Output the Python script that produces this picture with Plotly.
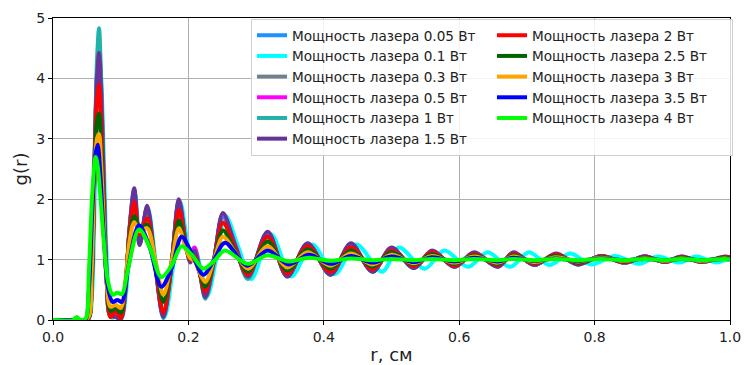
import plotly.graph_objects as go

# ---------------- data ----------------
# r grid for the low/medium power curves (extrema and shoulders)
R_MAIN = [0.0, 0.03, 0.035, 0.04, 0.052, 0.057, 0.061, 0.065, 0.068, 0.071,
          0.075, 0.079, 0.085, 0.093, 0.1, 0.107, 0.113, 0.12, 0.128, 0.139,
          0.151, 0.163, 0.175, 0.186, 0.197, 0.203, 0.209, 0.216, 0.225, 0.238,
          0.251, 0.27, 0.288, 0.317, 0.346, 0.376, 0.41, 0.44, 0.472, 0.5,
          0.533, 0.56, 0.593, 0.622, 0.657, 0.68, 0.711, 0.743, 0.775, 0.81,
          0.844, 0.874, 0.904, 0.928, 0.958, 0.992, 1.0]

# r grid for the 0.1 W curve (slightly longer period)
R_CYAN = [0.0, 0.03, 0.035, 0.04, 0.053, 0.058, 0.062, 0.066, 0.069, 0.072,
          0.076, 0.08, 0.086, 0.094, 0.101, 0.108, 0.114, 0.121, 0.129, 0.14,
          0.152, 0.165, 0.177, 0.188, 0.199, 0.205, 0.211, 0.219, 0.228, 0.241,
          0.255, 0.274, 0.293, 0.322, 0.352, 0.383, 0.416, 0.448, 0.486, 0.511,
          0.549, 0.578, 0.613, 0.642, 0.675, 0.703, 0.733, 0.764, 0.795, 0.83,
          0.865, 0.893, 0.925, 0.95, 0.98, 0.995, 1.0]

# r grid for the high power curves (3.5 W, 4 W)
R_HIGH = [0.0, 0.03, 0.035, 0.04, 0.048, 0.053, 0.058, 0.063, 0.066, 0.07,
          0.075, 0.081, 0.088, 0.095, 0.102, 0.11, 0.127, 0.143, 0.16, 0.175,
          0.19, 0.205, 0.222, 0.238, 0.254, 0.287, 0.317, 0.348, 0.378, 0.41,
          0.44, 0.472, 0.5, 0.533, 0.56, 0.593, 0.622, 0.657, 0.68, 0.711,
          0.743, 0.775, 0.81, 0.844, 0.874, 0.904, 0.928, 0.958, 0.992, 1.0]

G_005 = [0, 0, 0.02, 0, 0.02, 0.55, 2.4, 4.1, 4.5, 3.9,
         2.2, 0.8, 0.06, 0.05, 0.02, 0.5, 1.5, 2.12, 1.28, 1.84,
         0.92, 0.06, 0.9, 1.97, 1.2, 0.97, 1.12, 0.84, 0.4, 1.0,
         1.74, 1.2, 0.7, 1.44, 0.73, 1.26, 0.76, 1.25, 0.8, 1.19,
         0.86, 1.14, 0.88, 1.11, 0.89, 1.11, 0.91, 1.09, 0.92, 1.06,
         0.95, 1.05, 0.96, 1.04, 0.96, 1.04, 1.03]
G_01 = [0, 0, 0.02, 0, 0.02, 0.5, 2.2, 3.9, 4.3, 3.8,
        2.3, 0.9, 0.1, 0.05, 0.02, 0.45, 1.4, 2.1, 1.3, 1.85,
        0.95, 0.05, 0.85, 1.95, 1.25, 1.0, 1.12, 0.8, 0.4, 1.0,
        1.72, 1.2, 0.68, 1.42, 0.72, 1.25, 0.76, 1.25, 0.8, 1.2,
        0.85, 1.15, 0.88, 1.12, 0.88, 1.12, 0.91, 1.1, 0.92, 1.06,
        0.93, 1.05, 0.95, 1.05, 0.95, 1.0, 1.01]
G_03 = [0, 0, 0.02, 0, 0.02, 0.55, 2.4, 4.0, 4.4, 3.8,
        2.2, 0.8, 0.07, 0.06, 0.03, 0.5, 1.48, 2.1, 1.3, 1.82,
        0.93, 0.07, 0.9, 1.95, 1.2, 1.0, 1.1, 0.84, 0.42, 1.0,
        1.72, 1.18, 0.7, 1.42, 0.74, 1.25, 0.77, 1.24, 0.81, 1.18,
        0.87, 1.13, 0.89, 1.1, 0.89, 1.1, 0.92, 1.08, 0.93, 1.06,
        0.95, 1.05, 0.96, 1.04, 0.97, 1.04, 1.03]
G_05 = [0, 0, 0.02, 0, 0.02, 0.55, 2.4, 4.05, 4.45, 3.85,
        2.2, 0.8, 0.06, 0.06, 0.03, 0.5, 1.48, 2.1, 1.3, 1.84,
        0.93, 0.07, 0.92, 1.95, 1.25, 1.12, 1.2, 0.88, 0.42, 1.02,
        1.72, 1.22, 0.72, 1.43, 0.74, 1.25, 0.77, 1.24, 0.81, 1.18,
        0.87, 1.13, 0.89, 1.1, 0.89, 1.1, 0.92, 1.08, 0.93, 1.06,
        0.95, 1.05, 0.96, 1.04, 0.97, 1.04, 1.03]
G_1 = [0, 0, 0.02, 0, 0.02, 0.5, 2.5, 4.3, 4.83, 4.0,
       2.3, 0.8, 0.05, 0.05, 0.02, 0.5, 1.5, 2.15, 1.25, 1.85,
       0.9, 0.03, 0.9, 1.95, 1.2, 0.98, 1.15, 0.85, 0.35, 0.95,
       1.75, 1.2, 0.68, 1.45, 0.72, 1.26, 0.75, 1.25, 0.8, 1.18,
       0.86, 1.14, 0.88, 1.11, 0.88, 1.11, 0.91, 1.09, 0.92, 1.06,
       0.95, 1.05, 0.96, 1.05, 0.96, 1.04, 1.04]
G_15 = [0, 0, 0.02, 0, 0.02, 0.6, 2.4, 4.0, 4.42, 3.8,
        2.2, 0.8, 0.08, 0.05, 0.02, 0.5, 1.5, 2.18, 1.24, 1.89,
        0.9, 0.05, 0.9, 2.0, 1.2, 0.95, 1.15, 0.85, 0.38, 1.0,
        1.77, 1.2, 0.72, 1.46, 0.72, 1.27, 0.75, 1.27, 0.8, 1.2,
        0.86, 1.15, 0.88, 1.12, 0.88, 1.12, 0.91, 1.1, 0.92, 1.06,
        0.95, 1.05, 0.96, 1.05, 0.96, 1.05, 1.04]
G_2 = [0, 0, 0.02, 0, 0.02, 0.65, 2.4, 3.65, 3.9, 3.3,
       1.9, 0.7, 0.05, 0.15, 0.03, 0.55, 1.45, 1.95, 1.42, 1.68,
       0.9, 0.12, 0.9, 1.82, 1.2, 1.0, 1.05, 0.8, 0.47, 1.0,
       1.61, 1.15, 0.75, 1.38, 0.77, 1.22, 0.8, 1.2, 0.84, 1.15,
       0.89, 1.12, 0.9, 1.09, 0.91, 1.09, 0.93, 1.08, 0.94, 1.05,
       0.96, 1.04, 0.97, 1.04, 0.97, 1.04, 1.03]
G_25 = [0, 0, 0.03, 0, 0.03, 0.7, 2.3, 3.3, 3.42, 2.9,
        1.7, 0.7, 0.15, 0.2, 0.12, 0.6, 1.35, 1.72, 1.5, 1.58,
        0.95, 0.3, 0.95, 1.65, 1.18, 1.02, 1.02, 0.8, 0.55, 1.0,
        1.48, 1.12, 0.8, 1.3, 0.82, 1.17, 0.85, 1.15, 0.88, 1.12,
        0.92, 1.09, 0.93, 1.07, 0.93, 1.07, 0.95, 1.06, 0.95, 1.04,
        0.97, 1.03, 0.98, 1.03, 0.98, 1.03, 1.02]
G_3 = [0, 0, 0.03, 0, 0.04, 0.8, 2.3, 3.0, 3.08, 2.6,
       1.6, 0.7, 0.22, 0.25, 0.2, 0.65, 1.3, 1.62, 1.47, 1.52,
       1.0, 0.42, 0.95, 1.52, 1.15, 1.02, 0.98, 0.8, 0.63, 1.0,
       1.38, 1.1, 0.85, 1.22, 0.87, 1.12, 0.9, 1.1, 0.92, 1.08,
       0.94, 1.06, 0.95, 1.05, 0.95, 1.05, 0.96, 1.04, 0.97, 1.03,
       0.98, 1.02, 0.98, 1.02, 0.98, 1.02, 1.01]
G_35 = [0, 0, 0.02, 0, 0, 0.5, 1.8, 2.75, 2.9, 2.4,
        1.4, 0.55, 0.3, 0.33, 0.3, 0.8, 1.57, 1.2, 0.55, 0.85,
        1.38, 1.1, 0.75, 1.0, 1.28, 0.9, 1.15, 0.92, 1.08, 0.93,
        1.06, 0.95, 1.05, 0.96, 1.04, 0.97, 1.03, 0.97, 1.03, 0.98,
        1.02, 0.98, 1.02, 0.99, 1.01, 0.99, 1.01, 0.99, 1.01, 1.0]
G_4 = [0, 0, 0.05, 0, 0.02, 0.8, 2.1, 2.7, 2.55, 2.05,
       1.3, 0.65, 0.42, 0.45, 0.43, 0.8, 1.5, 1.2, 0.71, 0.9,
       1.22, 1.08, 0.85, 0.98, 1.15, 0.93, 1.07, 0.97, 1.03, 0.98,
       1.02, 0.99, 1.01, 0.99, 1.01, 0.99, 1.01, 0.99, 1.01, 0.99,
       1.01, 0.99, 1.01, 0.99, 1.01, 0.99, 1.01, 0.99, 1.01, 1.0]

LABELS = ["Мощность лазера 0.05 Вт", "Мощность лазера 0.1 Вт",
          "Мощность лазера 0.3 Вт", "Мощность лазера 0.5 Вт",
          "Мощность лазера 1 Вт", "Мощность лазера 1.5 Вт",
          "Мощность лазера 2 Вт", "Мощность лазера 2.5 Вт",
          "Мощность лазера 3 Вт", "Мощность лазера 3.5 Вт",
          "Мощность лазера 4 Вт"]
R_LISTS = [R_MAIN, R_CYAN, R_MAIN, R_MAIN, R_MAIN, R_MAIN,
           R_MAIN, R_MAIN, R_MAIN, R_HIGH, R_HIGH]
G_LISTS = [G_005, G_01, G_03, G_05, G_1, G_15, G_2, G_25, G_3, G_35, G_4]
X_TICKS = [0.0, 0.2, 0.4, 0.6, 0.8, 1.0]
Y_TICKS = [0, 1, 2, 3, 4, 5]

# ---------------- styles ----------------
COLORS = ["#1E90FF", "#00FFFF", "#708090", "#FF00FF", "#20B2AA", "#663399",
          "#FF0000", "#006400", "#FFA500", "#0000FF", "#00FF00"]
# legend shown in two columns, column-major like the original
LEGEND_RANK = [1, 3, 5, 7, 9, 11, 2, 4, 6, 8, 10]

for r, g in zip(R_LISTS, G_LISTS):
    assert len(r) == len(g), (len(r), len(g))

FONT = "DejaVu Sans"
fig = go.Figure()
for lab, r, g, c, rk in zip(LABELS, R_LISTS, G_LISTS, COLORS, LEGEND_RANK):
    fig.add_trace(go.Scatter(
        x=r, y=g, mode="lines", name=lab, legendrank=rk,
        line=dict(color=c, width=4, shape="spline", smoothing=0.9),
    ))

axis_common = dict(
    showline=True, mirror=True, linecolor="#000000", linewidth=1,
    showgrid=True, gridcolor="#b0b0b0", gridwidth=0.8,
    zeroline=False, ticks="outside", ticklen=4, tickwidth=1, tickcolor="#000000",
    tickfont=dict(family=FONT, size=14, color="#222222"),
    automargin=False,
)

fig.update_layout(
    width=745, height=365,
    margin=dict(l=53, r=15, t=18, b=45, autoexpand=False),
    paper_bgcolor="white", plot_bgcolor="white",
    font=dict(family=FONT, color="#222222"),
    showlegend=True,
    legend=dict(
        orientation="h", x=0.2925, xanchor="left", y=0.997, yanchor="top",
        entrywidth=195, entrywidthmode="pixels",
        bgcolor="rgba(255,255,255,0.85)", bordercolor="#d0d0d0", borderwidth=1,
        font=dict(family=FONT, size=13.6, color="#222222"),
        traceorder="normal",
    ),
    xaxis=dict(range=[0, 1], tickvals=X_TICKS, tickformat=".1f",
               title=dict(text="r, см", font=dict(family=FONT, size=18, color="#222222"), standoff=6),
               **axis_common),
    yaxis=dict(range=[0, 5], tickvals=Y_TICKS,
               title=dict(text="g(r)", font=dict(family=FONT, size=18, color="#222222"), standoff=3),
               **axis_common),
)

fig.write_html("out.html")
